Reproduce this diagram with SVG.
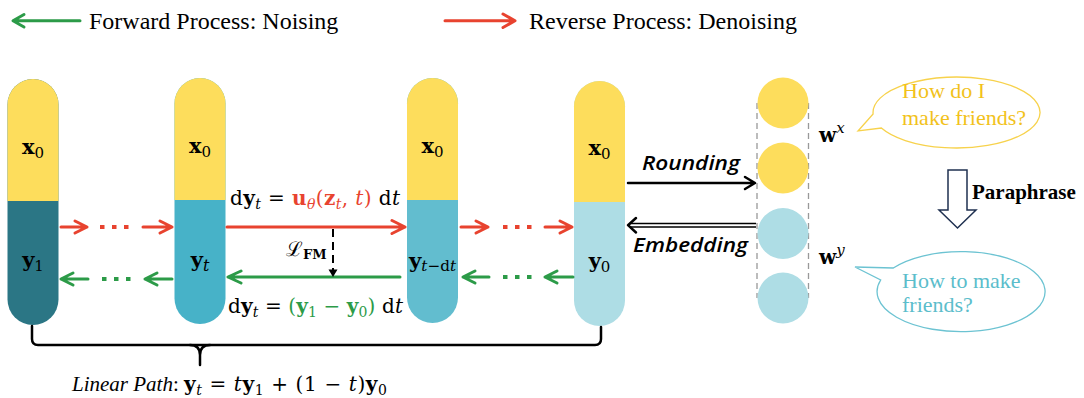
<svg xmlns="http://www.w3.org/2000/svg" width="1084" height="398" viewBox="0 0 1084 398">
<style>
.r{stroke:#E8432F;fill:none;stroke-width:3;stroke-linecap:round;stroke-linejoin:round}
.g{stroke:#2C9B48;fill:none;stroke-width:3;stroke-linecap:round;stroke-linejoin:round}
.rd{stroke:#E8432F;stroke-width:4;stroke-dasharray:4.5 7.5;fill:none}
.gd{stroke:#2C9B48;stroke-width:4;stroke-dasharray:4.5 7.5;fill:none}
.k{stroke:#000;fill:none;stroke-width:2.5;stroke-linecap:round;stroke-linejoin:round}
.serif{font-family:"Liberation Serif","Times New Roman",serif}
.m{font-family:"DejaVu Serif","Liberation Serif",serif;font-size:20px}
.pt{font-family:"DejaVu Serif","Liberation Serif",serif;font-size:21px;text-anchor:middle}
.b{font-weight:bold}
.i{font-style:italic}
.sans{font-family:"Open Sans","DejaVu Sans",sans-serif;font-style:italic;font-weight:600;font-size:19px}
.yel{fill:#FDDD5C}
</style>

<g id="legend">
  <path class="g" d="M80,20.8 H14 M24,14.5 L13,20.8 L24,27"/>
  <text class="serif" x="89" y="28.5" font-size="24">Forward Process: Noising</text>
  <path class="r" d="M445,20.8 H514 M503,14 L515,20.8 L503,27.5"/>
  <text class="serif" x="529" y="28.5" font-size="24">Reverse Process: Denoising</text>
</g>

<g id="pill1">
  <rect x="7.5" y="79" width="51" height="246" rx="25.5" fill="#2B7685"/>
  <path class="yel" d="M7.5,201 V104.5 A25.5,25.5 0 0 1 58.5,104.5 V201 Z"/>
  <text class="pt" x="33" y="153.5"><tspan class="b">x</tspan><tspan font-size="15" dy="4">0</tspan></text>
  <text class="pt" x="33" y="266.5"><tspan class="b">y</tspan><tspan font-size="15" dy="4">1</tspan></text>
</g>
<g id="pill2">
  <rect x="174.5" y="78" width="51" height="246" rx="25.5" fill="#47B2C8"/>
  <path class="yel" d="M174.5,200 V103.5 A25.5,25.5 0 0 1 225.5,103.5 V200 Z"/>
  <text class="pt" x="200" y="153"><tspan class="b">x</tspan><tspan font-size="15" dy="4">0</tspan></text>
  <text class="pt" x="200" y="266.5"><tspan class="b">y</tspan><tspan class="i" font-size="16" dy="4">t</tspan></text>
</g>
<g id="pill3">
  <rect x="407" y="78" width="51" height="245" rx="25.5" fill="#62BDCF"/>
  <path class="yel" d="M407,200 V103.5 A25.5,25.5 0 0 1 458,103.5 V200 Z"/>
  <text class="pt" x="432.5" y="153"><tspan class="b">x</tspan><tspan font-size="15" dy="4">0</tspan></text>
  <text class="pt" x="432.5" y="268" textLength="47" lengthAdjust="spacingAndGlyphs"><tspan class="b">y</tspan><tspan class="i" font-size="15" dy="3">t</tspan><tspan font-size="15">−d</tspan><tspan class="i" font-size="15">t</tspan></text>
</g>
<g id="pill4">
  <rect x="574" y="81" width="51" height="245" rx="25.5" fill="#AEDDE5"/>
  <path class="yel" d="M574,202 V106.5 A25.5,25.5 0 0 1 625,106.5 V202 Z"/>
  <text class="pt" x="599.5" y="155"><tspan class="b">x</tspan><tspan font-size="15" dy="4">0</tspan></text>
  <text class="pt" x="599.5" y="268"><tspan class="b">y</tspan><tspan font-size="15" dy="4">0</tspan></text>
</g>

<g id="tokens">
  <line x1="757" y1="103" x2="757" y2="298" stroke="#999" stroke-width="1.3" stroke-dasharray="6 4"/>
  <line x1="808.5" y1="103" x2="808.5" y2="298" stroke="#999" stroke-width="1.3" stroke-dasharray="6 4"/>
  <circle class="yel" cx="783" cy="103" r="25.5"/>
  <circle class="yel" cx="783" cy="168" r="25.5"/>
  <circle cx="783" cy="233.5" r="25.5" fill="#AEDDE5"/>
  <circle cx="783" cy="298" r="25.5" fill="#AEDDE5"/>
  <text class="m" x="819" y="142" font-size="21"><tspan class="b">w</tspan><tspan class="i" font-size="15" dy="-9">x</tspan></text>
  <text class="m" x="819" y="264" font-size="21"><tspan class="b">w</tspan><tspan class="i" font-size="15" dy="-9">y</tspan></text>
</g>

<g id="bubble-x">
  <path d="M858,131 L873.1,114 A83.5,35.5 0 1 1 881.4,128 Z" fill="#fff" stroke="#F7D24C" stroke-width="1.3"/>
  <text class="serif" font-size="22" fill="#F2C21B"><tspan x="902" y="98">How do I</tspan><tspan x="902" y="125">make friends?</tspan></text>
</g>
<g id="bubble-y">
  <path d="M855,267 L893.3,268 A84,40 0 1 1 880.7,280 Z" fill="#fff" stroke="#6CC3D2" stroke-width="1.3"/>
  <text class="serif" font-size="22" fill="#5BBDCB"><tspan x="902" y="288">How to make</tspan><tspan x="902" y="312">friends?</tspan></text>
</g>
<g id="paraphrase">
  <path d="M948,170 H967 V210 H976 L957.5,228 L939,210 H948 Z" fill="#fff" stroke="#1F3050" stroke-width="1.5"/>
  <text class="serif b" x="972" y="199" font-size="21">Paraphrase</text>
</g>

<g id="connectors">
  <path class="r" d="M61,227 H87 M75,221 L87,227 L75,233"/>
  <line class="rd" x1="100" y1="227" x2="130" y2="227"/>
  <path class="r" d="M143,227 H172 M160,221 L172,227 L160,233"/>
  <path class="r" d="M227,227 H405 M392,220.5 L405,227 L392,233.5"/>
  <path class="r" d="M461,227 H488 M476,221 L488,227 L476,233"/>
  <line class="rd" x1="503" y1="227" x2="533" y2="227"/>
  <path class="r" d="M545,227 H572 M560,221 L572,227 L560,233"/>
  <path class="g" d="M88,279 H61 M73,273 L61,279 L73,285"/>
  <line class="gd" x1="102" y1="279" x2="132" y2="279"/>
  <path class="g" d="M172,279 H145 M157,273 L145,279 L157,285"/>
  <path class="g" d="M400,277 H228 M241,271 L228,277 L241,283"/>
  <path class="g" d="M489,277 H463 M475,271 L463,277 L475,283"/>
  <line class="gd" x1="503" y1="277" x2="533" y2="277"/>
  <path class="g" d="M573,277 H545 M557,271 L545,277 L557,283"/>
  <line x1="333" y1="229" x2="333" y2="270" stroke="#000" stroke-width="2" stroke-dasharray="8 5"/>
  <path d="M328.5,269.5 H337.5 L333,277 Z" fill="#000"/>
  <path class="k" d="M628,183 H754 M745,177 L755,183 L745,189"/>
  <path d="M756,223.5 H630 M756,227 H630" stroke="#000" stroke-width="1.5" fill="none"/>
  <path class="k" d="M636,218 L628,225.2 L636,232.5" stroke-width="2"/>
  <path class="k" stroke-width="3" d="M32,326 V339 Q32,345 38,345 H595 Q601,345 601,339 V327"/>
  <path class="k" stroke-width="3" d="M190,345 Q200,345 200,355 V365 M210,345 Q200,345 200,355"/>
</g>

<g id="labels">
  <text class="m" x="230" y="205" textLength="170" lengthAdjust="spacing">d<tspan class="b">y</tspan><tspan class="i" font-size="14" dy="4">t</tspan><tspan dy="-4"> = </tspan><tspan fill="#E8432F"><tspan class="b">u</tspan><tspan class="i" font-size="14" dy="4">θ</tspan><tspan dy="-4">(</tspan><tspan class="b">z</tspan><tspan class="i" font-size="14" dy="4">t</tspan><tspan dy="-4">, </tspan><tspan class="i">t</tspan>)</tspan> d<tspan class="i">t</tspan></text>
  <text class="m" x="228" y="313" textLength="175" lengthAdjust="spacing">d<tspan class="b">y</tspan><tspan class="i" font-size="14" dy="4">t</tspan><tspan dy="-4"> = </tspan><tspan fill="#2C9B48">(<tspan class="b">y</tspan><tspan font-size="14" dy="4">1</tspan><tspan dy="-4"> − </tspan><tspan class="b">y</tspan><tspan font-size="14" dy="4">0</tspan><tspan dy="-4">)</tspan></tspan> d<tspan class="i">t</tspan></text>
  <text class="m" x="286" y="256">ℒ<tspan class="b" font-size="13" dy="3">FM</tspan></text>
  <text class="sans" x="642" y="170" textLength="98" lengthAdjust="spacingAndGlyphs">Rounding</text>
  <text class="sans" x="633" y="252" textLength="115" lengthAdjust="spacingAndGlyphs">Embedding</text>
  <text class="serif" x="72" y="391" font-size="21"><tspan class="i">Linear Path</tspan>:</text>
  <text class="m" x="184" y="391" textLength="203" lengthAdjust="spacing"><tspan class="b">y</tspan><tspan class="i" font-size="14" dy="4">t</tspan><tspan dy="-4"> = </tspan><tspan class="i">t</tspan><tspan class="b">y</tspan><tspan font-size="14" dy="4">1</tspan><tspan dy="-4"> + (1 − </tspan><tspan class="i">t</tspan>)<tspan class="b">y</tspan><tspan font-size="14" dy="4">0</tspan></text>
</g>
</svg>
